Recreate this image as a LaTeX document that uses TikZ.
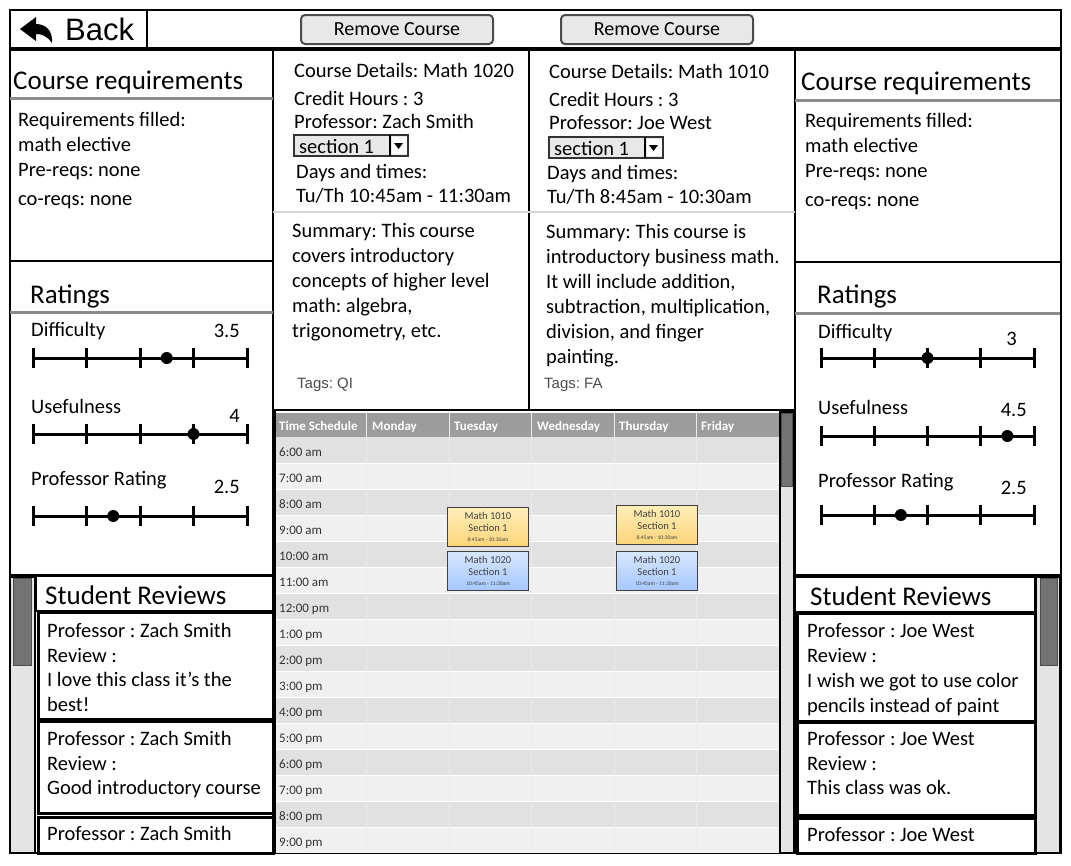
\documentclass[tikz,border=0pt]{standalone}
\usepackage{fontspec}
\setmainfont{Carlito}
\newfontfamily\arialfont{Liberation Sans}
\usetikzlibrary{positioning}
\frenchspacing

\definecolor{hdrline}{HTML}{8C8C8C}
\definecolor{rowdark}{HTML}{E1E1E1}
\definecolor{rowlight}{HTML}{F0F0F0}
\definecolor{calhead}{HTML}{9C9C9C}
\definecolor{track}{HTML}{E4E4E4}
\definecolor{thumb}{HTML}{737373}
\definecolor{btnfill}{HTML}{E8E8E8}
\definecolor{sepgray}{HTML}{D4D4D4}
\definecolor{yeltop}{HTML}{FFEDB8}
\definecolor{yelbot}{HTML}{FDD57A}
\definecolor{bluetop}{HTML}{D6E6FF}
\definecolor{bluebot}{HTML}{A6C7FF}

\tikzset{
  frame/.style={draw=black, line width=2pt},
  hdrrule/.style={draw=hdrline, line width=3pt},
  title/.style={font=\fontsize{27}{30}\selectfont, anchor=base west, inner sep=0pt},
  txt/.style={font=\fontsize{20.5}{25}\selectfont, anchor=base west, inner sep=0pt},
  val/.style={font=\fontsize{20.5}{25}\selectfont, anchor=base east, inner sep=0pt},
  tagtxt/.style={font=\arialfont\fontsize{15}{18}\selectfont, text=black!70, anchor=base west, inner sep=0pt},
  caltxt/.style={font=\fontsize{13}{14}\selectfont, text=black!80, anchor=base west, inner sep=0pt},
  calhdr/.style={font=\bfseries\fontsize{13}{14}\selectfont, text=white, anchor=base west, inner sep=0pt},
  button/.style={draw=black!70, line width=2pt, rounded corners=4pt, fill=btnfill,
    minimum width=192pt, minimum height=29pt, font=\fontsize{20}{22}\selectfont},
  bar/.style={line width=3pt},
  event/.style={draw=black!75, line width=1.2pt, minimum width=81pt, minimum height=39pt,
    align=center, inner sep=0pt, text=black!75, font=\fontsize{10.5}{12}\selectfont},
  yellowev/.style={event, top color=yeltop, bottom color=yelbot},
  blueev/.style={event, top color=bluetop, bottom color=bluebot},
}

\begin{document}
\begin{tikzpicture}[x=1pt, y=-1pt]
\useasboundingbox (0,0) rectangle (1071,865);

% top bar
\draw[frame] (10,10) rectangle (1061,853);
\draw[line width=3.5pt] (10,49) -- (1061,49);
\draw[frame] (147,10) -- (147,48);
\fill (20,29) -- (36,17) -- (36,24) .. controls (46,24) and (53,31) .. (52,43)
  .. controls (47,36) and (42,34) .. (36,34) -- (36,41) -- cycle;
\node[font=\arialfont\fontsize{31}{34}\selectfont, anchor=west, inner sep=0pt] (back) at (65,29) {Back};
\node[button] (remove1) at (397,29.5) {Remove Course};
\node[button] (remove2) at (657,29.5) {Remove Course};

% panel lines
\draw[frame] (273,49) -- (273,853);
\draw[frame] (795,49) -- (795,853);
\draw[frame] (529,49) -- (529,410);
\draw[sepgray, line width=2pt] (273,212) -- (795,212);
\draw[line width=2.5pt] (273,410) -- (795,410);
\draw[hdrrule] (10,98.5) -- (273,98.5);
\draw[frame] (10,261) -- (273,261);
\draw[hdrrule] (10,312) -- (273,312);
\draw[frame] (10,575) -- (273,575);
\draw[hdrrule] (795,100) -- (1060,100);
\draw[frame] (795,262) -- (1060,262);
\draw[hdrrule] (795,313) -- (1060,313);
\draw[frame] (795,575) -- (1060,575);

% course requirements
\node[title] (reqL) at (13,89) {Course requirements};
\node[title] (reqR) at (801,90) {Course requirements};
\foreach \t/\y [count=\i] in {Requirements filled:/126, math elective/151, Pre-reqs: none/176, co-reqs: none/205} {
  \node[txt] (reqL\i) at (18,\y) {\t};
  \node[txt] (reqR\i) at (805,\y+1) {\t};
}

% ratings
\node[title] (rateL) at (30,303) {Ratings};
\node[title] (rateR) at (817,303) {Ratings};
\foreach \t/\y/\v/\s/\vy [count=\i] in {Difficulty/336/3.5/358/337, Usefulness/413/4/434/422, Professor Rating/485/2.5/516/493} {
  \node[txt] (labL\i) at (31,\y) {\t};
  \node[val] (valL\i) at (240,\vy) {\v};
  \draw[bar] (33,\s) -- (247,\s);
  \foreach \k in {0,...,4} \draw[bar] (33+53.5*\k,\s-10) -- (33+53.5*\k,\s+10);
  \fill (33+53.5*\v-53.5,\s) circle (6);
}
\foreach \t/\y/\v/\s/\vy/\vx [count=\i] in {Difficulty/338/3/358/345/1017, Usefulness/414/4.5/436/416/1027, Professor Rating/487/2.5/515/494/1027} {
  \node[txt] (labR\i) at (818,\y) {\t};
  \node[val] (valR\i) at (\vx,\vy) {\v};
  \draw[bar] (821,\s) -- (1034,\s);
  \foreach \k in {0,...,4} \draw[bar] (821+53.25*\k,\s-10) -- (821+53.25*\k,\s+10);
  \fill (821+53.25*\v-53.25,\s) circle (6);
}

% course details
\node[txt] (cd1) at (294,77) {Course Details: Math 1020};
\node[txt] (ch1) at (294,105) {Credit Hours : 3};
\node[txt] (pr1) at (294,128) {Professor: Zach Smith};
\node[txt] (dt1) at (296,178) {Days and times:};
\node[txt] (tm1) at (296,202) {Tu/Th 10:45am - 11:30am};
\node[txt] (cd2) at (549,78) {Course Details: Math 1010};
\node[txt] (ch2) at (549,106) {Credit Hours : 3};
\node[txt] (pr2) at (549,129) {Professor: Joe West};
\node[txt] (dt2) at (547,179) {Days and times:};
\node[txt] (tm2) at (547,203) {Tu/Th 8:45am - 10:30am};
\foreach \x/\y [count=\i] in {294/135, 549/137} {
  \draw[fill=btnfill, draw=black!80, line width=1.5pt] (\x,\y) rectangle (\x+114,\y+21);
  \draw[line width=1.2pt] (\x+96,\y) -- (\x+96,\y+21);
  \fill[white] (\x+97.5,\y+2) rectangle (\x+112.5,\y+19);
  \fill (\x+100,\y+8) -- (\x+109,\y+8) -- (\x+104.5,\y+14) -- cycle;
  \node[txt] (sec\i) at (\x+5,\y+18) {section 1};
}
\foreach \t [count=\i] in {Summary: This course, covers introductory, concepts of higher level, {math: algebra,}, {trigonometry, etc.}}
  \node[txt] (suma\i) at (292,212+25*\i) {\t};
\foreach \t [count=\i] in {Summary: This course is, introductory business math., {It will include addition,}, {subtraction, multiplication,}, {division, and finger}, painting.}
  \node[txt] (sumb\i) at (546,213+25*\i) {\t};
\node[tagtxt] (tag1) at (297,388) {Tags: QI};
\node[tagtxt] (tag2) at (544,388) {Tags: FA};

% time schedule
\fill[rowlight] (276,437) rectangle (779,853);
\foreach \i in {0,2,...,14} \fill[rowdark] (276,437+26*\i) rectangle (779,463+26*\i);
\foreach \i in {1,...,15} \draw[white, line width=1pt] (276,437+26*\i) -- (779,437+26*\i);
\fill[calhead] (276,413) rectangle (779,437);
\foreach \x in {366,449,531,614,696} \draw[white!92!black, line width=1pt] (\x,413) -- (\x,853);
\foreach \t/\x [count=\i] in {Time Schedule/279, Monday/372, Tuesday/454, Wednesday/537, Thursday/619, Friday/701}
  \node[calhdr] (day\i) at (\x,430) {\t};
\foreach \t [count=\i from 0] in {6:00 am, 7:00 am, 8:00 am, 9:00 am, 10:00 am, 11:00 am, 12:00 pm, 1:00 pm,
    2:00 pm, 3:00 pm, 4:00 pm, 5:00 pm, 6:00 pm, 7:00 pm, 8:00 pm, 9:00 pm}
  \node[caltxt] (hr\i) at (279,456+26*\i) {\t};
\draw[fill=track, line width=1.5pt] (780,412) rectangle (794,853);
\draw[fill=thumb, draw=black!70, line width=1pt] (781.5,413) rectangle (792.5,486);
\draw[frame] (274.5,410) -- (274.5,853);

\node[yellowev] (tu1010) at (488,527) {Math 1010\\Section 1\\[-2pt]{\fontsize{5.5}{6}\selectfont 8:45am - 10:30am}};
\node[blueev] (tu1020) at (488,571) {Math 1020\\Section 1\\[-2pt]{\fontsize{5.5}{6}\selectfont 10:45am - 11:30am}};
\node[yellowev] (th1010) at (657,525) {Math 1010\\Section 1\\[-2pt]{\fontsize{5.5}{6}\selectfont 8:45am - 10:30am}};
\node[blueev] (th1020) at (657,571) {Math 1020\\Section 1\\[-2pt]{\fontsize{5.5}{6}\selectfont 10:45am - 11:30am}};

% student reviews
\draw[fill=track, line width=1.5pt] (10,577) rectangle (35,853);
\draw[fill=thumb, draw=black!70, line width=1pt] (13,578) rectangle (31,665);
\draw[line width=2pt] (36,576) rectangle (273,611);
\foreach \a/\b in {612/719, 721/813, 817/853} \draw[line width=3pt] (38,\a) rectangle (273,\b);
\draw[fill=track, line width=1.5pt] (1036,577) rectangle (1060,853);
\draw[fill=thumb, draw=black!70, line width=1pt] (1040,578) rectangle (1057,665);
\draw[line width=2pt] (795,577) rectangle (1035,612);
\foreach \a/\b in {613/721, 722/815, 818/853} \draw[line width=3pt] (797,\a) rectangle (1035,\b);
\node[title] (revL) at (45,604) {Student Reviews};
\node[title] (revR) at (810,605) {Student Reviews};
\foreach \t/\y [count=\i] in {Professor : Zach Smith/637, Review :/662, I love this class it’s the/686, best!/711,
    Professor : Zach Smith/745, Review :/770, Good introductory course/794, Professor : Zach Smith/840}
  \node[txt] (rl\i) at (47,\y) {\t};
\foreach \t/\y [count=\i] in {Professor : Joe West/637, Review :/662, I wish we got to use color/687, pencils instead of paint/712,
    Professor : Joe West/745, Review :/770, This class was ok./794, Professor : Joe West/841}
  \node[txt] (rr\i) at (807,\y) {\t};
\end{tikzpicture}
\end{document}
